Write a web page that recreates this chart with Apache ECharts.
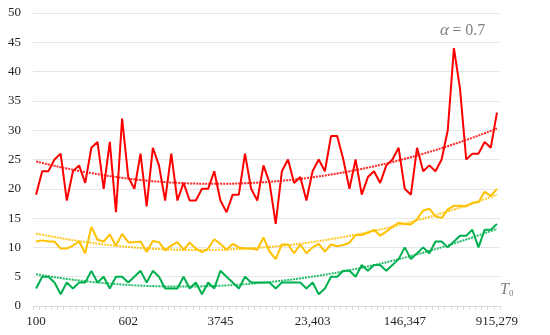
<!DOCTYPE html>
<html><head><meta charset="utf-8">
<script src="https://cdn.jsdelivr.net/npm/echarts@6/dist/echarts.min.js"></script>
<style>html,body{margin:0;padding:0;background:#fff}#c{width:550px;height:335px}</style>
</head><body><div id="c"></div>
<script>
const tickLabels = ['100', '602', '3745', '23,403', '146,347', '915,279'];
const labelStep = 15;
const red = [19,23,23,25,26,18,23,24,21,27,28,20,28,16,32,22,20,26,17,27,24,18,26,18,21,18,18,20,20,23,18,16,19,19,26,20,18,24,21,14,23,25,21,22,18,23,25,23,29,29,25,20,25,19,22,23,21,24,25,27,20,19,27,23,24,23,25,30,44,37,25,26,26,28,27,33];
const yellow = [11,11.2,11,11,9.8,9.8,10.3,11,9,13.5,11.3,11,12.2,10.3,12.3,10.9,10.9,11,9.2,11.1,10.9,9.5,10.3,10.9,9.6,10.8,9.8,9.2,9.8,11.4,10.6,9.6,10.6,10,9.8,9.8,9.6,11.7,9.3,8,10.5,10.5,9,10.5,9,10,10.6,9.3,10.5,10.2,10.4,10.8,12.1,12.1,12.5,13,12,12.7,13.5,14.2,14,13.9,14.8,16.3,16.6,15.3,15,16.5,17.1,17.1,17,17.6,17.7,19.5,18.8,20];
const green = [3,5,5,4,2,4,3,4,4,6,4,5,3,5,5,4,5,6,4,6,5,3,3,3,5,3,4,2,4,3,6,5,4,3,5,4,4,4,4,3,4,4,4,4,3,4,2,3,5,5,6,6,5,7,6,7,7,6,7,8,10,8,9,10,9,11,11,10,11,12,12,13,10,13,13,14];
const categories = red.map((_, i) => 'c' + i);

function quadFit(ys) {
  let S0=0,S1=0,S2=0,S3=0,S4=0,T0=0,T1=0,T2=0;
  ys.forEach((y, i) => { const x = i + 1; S0++; S1+=x; S2+=x*x; S3+=x*x*x; S4+=x*x*x*x; T0+=y; T1+=x*y; T2+=x*x*y; });
  const det = (m) => m[0][0]*(m[1][1]*m[2][2]-m[1][2]*m[2][1]) - m[0][1]*(m[1][0]*m[2][2]-m[1][2]*m[2][0]) + m[0][2]*(m[1][0]*m[2][1]-m[1][1]*m[2][0]);
  const M = [[S0,S1,S2],[S1,S2,S3],[S2,S3,S4]];
  const D = det(M);
  const a = det([[T0,S1,S2],[T1,S2,S3],[T2,S3,S4]]) / D;
  const b = det([[S0,T0,S2],[S1,T1,S3],[S2,T2,S4]]) / D;
  const c = det([[S0,S1,T0],[S1,S2,T1],[S2,S3,T2]]) / D;
  return ys.map((_, i) => { const x = i + 1; return a + b*x + c*x*x; });
}

const colors = { red: '#FF0000', yellow: '#FFC000', green: '#00B050' };
const font = 'Liberation Serif, Times New Roman, serif';

function line(data, color) {
  return { type: 'line', data, symbol: 'none', smooth: false, lineStyle: { color, width: 2 }, itemStyle: { color }, z: 2 };
}
function trend(data, color) {
  return { type: 'line', data: quadFit(data), symbol: 'none', smooth: true, lineStyle: { color, width: 2, type: [2, 1], opacity: 0.85 }, z: 3 };
}

const chart = echarts.init(document.getElementById('c'), null, { renderer: 'canvas' });
chart.setOption({
  animation: false,
  grid: { left: 33, right: 50, top: 13, bottom: 29, containLabel: false },
  xAxis: {
    type: 'category', data: categories, boundaryGap: true,
    axisLine: { lineStyle: { color: '#d9d9d9', width: 1 } },
    axisTick: { show: true, interval: 0, length: 4, lineStyle: { color: '#d9d9d9' } },
    axisLabel: { interval: labelStep - 1, margin: 9, color: '#262626', fontSize: 13, fontFamily: font,
      formatter: (v, i) => (i % labelStep === 0 ? tickLabels[i / labelStep] : '') },
    splitLine: { show: false }
  },
  yAxis: {
    type: 'value', min: 0, max: 50, interval: 5,
    axisLine: { show: false }, axisTick: { show: false },
    axisLabel: { margin: 12, color: '#262626', fontSize: 13, fontFamily: font },
    splitLine: { lineStyle: { color: '#e6e6e6', width: 1 } }
  },
  series: [
    line(red, colors.red), line(yellow, colors.yellow), line(green, colors.green),
    trend(red, colors.red), trend(yellow, colors.yellow), trend(green, colors.green)
  ],
  graphic: [
    { type: 'text', left: 440, top: 22, style: { text: '{a|α} {b|= 0.7}', rich: {
      a: { fontFamily: font, fontStyle: 'italic', fontSize: 17, fill: '#7f7f7f' },
      b: { fontFamily: font, fontSize: 16, fill: '#7f7f7f' } } } },
    { type: 'text', left: 500, top: 282, style: { text: '{t|T}{s|0}', rich: {
      t: { fontFamily: font, fontStyle: 'italic', fontSize: 16, fill: '#7f7f7f' },
      s: { fontFamily: font, fontSize: 9, fill: '#7f7f7f', verticalAlign: 'bottom', padding: [8, 0, 0, 0] } } } }
  ]
});
</script></body></html>
